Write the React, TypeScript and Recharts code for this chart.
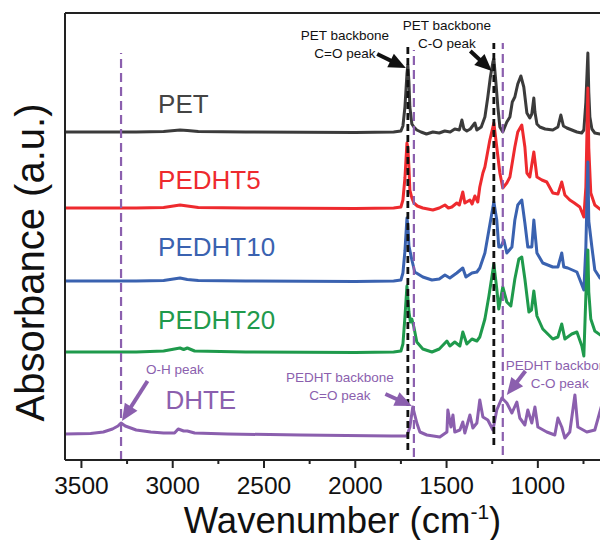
import React from 'react';
import {
  LineChart,
  Line,
  XAxis,
  YAxis,
  ReferenceLine,
  ReferenceDot,
} from 'recharts';

// spectra: [wavenumber cm-1, absorbance above the trace's own baseline]
const petSpectrum: [number, number][] = [
  [3590, 0], [3200, 0], [3050, 0.005], [2960, 0.02], [2920, 0.015], [2860, 0.005], [2600, 0], [2000, -0.005],
  [1790, 0], [1750, 0.01], [1739, 0.06], [1728, 0.25], [1717, 0.58], [1712, 0.67], [1706, 0.5], [1701, 0.25],
  [1690, 0.08], [1679, 0.05], [1663, 0.02], [1640, 0], [1610, -0.02], [1575, 0], [1540, -0.01], [1510, 0.01],
  [1480, 0], [1455, 0.03], [1430, 0.02], [1416, 0.12], [1405, 0.03], [1389, 0.01], [1370, 0.03], [1345, 0.09],
  [1334, 0.02], [1310, 0.05], [1290, 0.15], [1274, 0.35], [1260, 0.55], [1246, 0.7], [1241, 0.73], [1230, 0.5],
  [1219, 0.25], [1208, 0.05], [1192, 0], [1170, 0.1], [1153, 0.15], [1140, 0.3], [1126, 0.35], [1110, 0.48],
  [1093, 0.56], [1077, 0.45], [1060, 0.19], [1044, 0.14], [1033, 0.18], [1022, 0.34], [1016, 0.2], [1005, 0.08],
  [989, 0.05], [960, 0.03], [918, 0.02], [890, 0.05], [874, 0.17], [860, 0.06], [841, 0.04], [800, 0.01],
  [786, 0], [760, -0.01], [748, 0.02], [737, 0.3], [726, 0.79], [721, 0.4], [715, 0.15], [704, 0.03],
  [688, -0.01], [660, -0.02], [617, -0.03], [550, -0.03],
];

const pedht5Spectrum: [number, number][] = [
  [3590, 0], [3200, 0], [3050, 0.005], [2960, 0.03], [2920, 0.02], [2860, 0.005], [2600, 0], [2000, -0.005],
  [1790, 0], [1750, 0.01], [1739, 0.08], [1728, 0.3], [1717, 0.65], [1712, 0.6], [1706, 0.4], [1701, 0.18],
  [1690, 0.1], [1679, 0.05], [1660, 0.02], [1630, 0], [1575, -0.02], [1540, 0], [1509, 0.03], [1490, 0],
  [1471, 0.01], [1444, 0.05], [1430, 0.03], [1411, 0.16], [1400, 0.05], [1372, 0.08], [1360, 0.04], [1345, 0.12],
  [1329, 0.06], [1318, 0.21], [1301, 0.35], [1290, 0.41], [1263, 0.68], [1241, 0.85], [1225, 0.61], [1208, 0.35],
  [1192, 0.2], [1170, 0.25], [1153, 0.31], [1126, 0.61], [1110, 0.76], [1088, 0.83], [1071, 0.61], [1060, 0.35],
  [1044, 0.31], [1022, 0.56], [1005, 0.31], [978, 0.28], [951, 0.26], [918, 0.15], [890, 0.14], [869, 0.26],
  [852, 0.13], [825, 0.08], [800, 0.05], [770, 0.01], [748, -0.09], [737, 0.21], [726, 1.2], [721, 0.6],
  [710, 0.15], [688, 0.03], [660, -0.01], [617, -0.04], [550, -0.05],
];

const pedht10Spectrum: [number, number][] = [
  [3590, 0], [3200, 0], [3050, 0.005], [2960, 0.03], [2920, 0.015], [2860, 0.005], [2600, 0], [2000, -0.005],
  [1790, 0], [1750, 0.01], [1739, 0.08], [1728, 0.3], [1717, 0.63], [1712, 0.55], [1706, 0.35], [1690, 0.21],
  [1674, 0.09], [1630, 0.04], [1580, 0.01], [1540, 0.02], [1509, 0.06], [1482, 0.03], [1444, 0.08], [1411, 0.13],
  [1394, 0.04], [1361, 0.08], [1334, 0.09], [1318, 0.13], [1290, 0.28], [1268, 0.51], [1241, 0.79], [1225, 0.61],
  [1214, 0.34], [1203, 0.34], [1186, 0.41], [1170, 0.28], [1142, 0.34], [1126, 0.61], [1110, 0.76], [1088, 0.81],
  [1071, 0.58], [1055, 0.34], [1033, 0.34], [1022, 0.61], [1005, 0.28], [973, 0.18], [918, 0.14], [890, 0.14],
  [869, 0.28], [858, 0.14], [836, 0.13], [786, 0.09], [748, -0.09], [737, 0.34], [726, 1.19], [721, 0.6],
  [704, 0.34], [688, 0.11], [660, 0.03], [617, -0.02], [550, -0.03],
];

const pedht20Spectrum: [number, number][] = [
  [3590, 0], [3200, 0], [3050, 0.01], [2960, 0.04], [2940, 0.025], [2920, 0.04], [2880, 0.01], [2600, 0],
  [2000, -0.005], [1790, 0], [1750, 0.01], [1739, 0.08], [1728, 0.35], [1717, 0.66], [1706, 0.4], [1698, 0.3],
  [1690, 0.33], [1679, 0.25], [1663, 0.1], [1630, 0.03], [1580, 0], [1540, 0.03], [1498, 0.11], [1482, 0.06],
  [1455, 0.1], [1427, 0.06], [1411, 0.2], [1389, 0.08], [1361, 0.13], [1334, 0.11], [1318, 0.15], [1290, 0.33],
  [1268, 0.56], [1241, 0.88], [1225, 0.63], [1214, 0.43], [1192, 0.65], [1170, 0.5], [1148, 0.46], [1126, 0.73],
  [1104, 0.93], [1088, 0.95], [1071, 0.73], [1049, 0.4], [1035, 0.42], [1022, 0.61], [1005, 0.36], [973, 0.23],
  [918, 0.13], [890, 0.15], [869, 0.28], [852, 0.13], [814, 0.18], [786, 0.2], [759, 0.06], [748, -0.04],
  [737, 0.56], [726, 1.02], [721, 0.6], [710, 0.33], [688, 0.21], [650, 0.16], [617, 0.1], [550, 0.08],
];

const dhteSpectrum: [number, number][] = [
  [3590, 0], [3450, 0.005], [3380, 0.02], [3330, 0.05], [3300, 0.08], [3283, 0.11], [3260, 0.08], [3200, 0.04],
  [3120, 0.02], [3050, 0.01], [2990, 0.01], [2970, 0.05], [2955, 0.04], [2940, 0.03], [2920, 0.03], [2880, 0.01],
  [2700, 0], [2300, -0.01], [1800, -0.02], [1717, -0.02], [1701, 0.07], [1685, 0.27], [1663, 0.11], [1646, 0.02],
  [1608, -0.01], [1537, -0.03], [1498, 0.02], [1493, 0.24], [1476, 0.07], [1465, 0.19], [1455, 0.02], [1427, 0.04],
  [1411, 0.12], [1400, 0.01], [1372, 0.19], [1356, 0.06], [1334, 0.11], [1318, 0.34], [1301, 0.17], [1274, 0.14],
  [1246, 0.04], [1225, 0.24], [1197, 0.36], [1170, 0.31], [1142, 0.21], [1115, 0.32], [1099, 0.16], [1071, 0.09],
  [1055, 0.24], [1033, 0.11], [1016, 0.27], [1000, 0.07], [951, 0.02], [907, -0.01], [890, 0.16], [869, 0.07],
  [852, -0.04], [825, 0.02], [797, 0.39], [781, 0.07], [732, 0.02], [688, 0.04], [650, 0.29], [617, 0.11], [550, 0.05],
];

const sampleNames = ['PET', 'PEDHT5', 'PEDHT10', 'PEDHT20', 'DHTE'];
const sampleColors = ['#3b3b3b', '#ee2a2e', '#3a62b0', '#1f9a4c', '#8b5fae'];
const sampleLabelColors = ['#444444', '#ee2a2e', '#3a62b0', '#1f9a4c', '#8b5fae'];
const stackOffsets = [3.28, 2.52, 1.79, 1.08, 0.26];
const spectra = [petSpectrum, pedht5Spectrum, pedht10Spectrum, pedht20Spectrum, dhteSpectrum];
// where each sample name sits: [wavenumber, absorbance]
const sampleLabelPos: [number, number][] = [[3080, 3.56], [3080, 2.8], [3080, 2.13], [3080, 1.4], [3040, 0.6]];

const xTicks = [3500, 3250, 3000, 2750, 2500, 2250, 2000, 1750, 1500, 1250, 1000, 750];
const peakLines = [
  { x: 1712, y1: 0.1, y2: 4.15, color: '#111111' },
  { x: 1241, y1: 0.15, y2: 4.17, color: '#111111' },
  { x: 3283, y1: 0, y2: 4.07, color: '#8b5fae' },
  { x: 1679, y1: 0.03, y2: 4.1, color: '#8b5fae' },
  { x: 1192, y1: 0.05, y2: 4.17, color: '#8b5fae' },
];
const notes = [
  { x: 2057, y: 4.25, lines: ['PET backbone', 'C=O peak'], color: '#111111' },
  { x: 1498, y: 4.35, lines: ['PET backbone', 'C-O peak'], color: '#111111' },
  { x: 2988, y: 0.91, lines: ['O-H peak'], color: '#8b5fae' },
  { x: 2084, y: 0.83, lines: ['PEDHT backbone', 'C=O peak'], color: '#8b5fae' },
  { x: 880, y: 0.95, lines: ['PEDHT backbone', 'C-O peak'], color: '#8b5fae' },
];
const arrows = [
  { from: [1880, 4.06], to: [1723, 3.92], color: '#111111' },
  { from: [1370, 4.09], to: [1252, 3.89], color: '#111111' },
  { from: [3138, 0.79], to: [3278, 0.39], color: '#8b5fae' },
  { from: [1835, 0.66], to: [1690, 0.54], color: '#8b5fae' },
  { from: [1068, 0.89], to: [1170, 0.65], color: '#8b5fae' },
];

const FONT = '"Liberation Sans", Arial, Helvetica, sans-serif';
const Y_TOP = 4.47;

function XTick(props: any) {
  const { x, y, payload } = props;
  const major = payload.value % 500 === 0;
  return (
    <g>
      <line x1={x} y1={y} x2={x} y2={y + (major ? 8 : 4)} stroke="#222" strokeWidth={2} />
      {major && (
        <text x={x} y={y + 34} textAnchor="middle" fontSize={24.5} fill="#111" fontFamily={FONT}>
          {payload.value}
        </text>
      )}
    </g>
  );
}

function Arrow(props: any) {
  const { x1, y1, x2, y2, color } = props;
  const dx = x2 - x1;
  const dy = y2 - y1;
  const len = Math.sqrt(dx * dx + dy * dy);
  const ux = dx / len;
  const uy = dy / len;
  const head = 17;
  const half = 7.5;
  const bx = x2 - ux * head;
  const by = y2 - uy * head;
  const pts = `${x2},${y2} ${bx - uy * half},${by + ux * half} ${bx + uy * half},${by - ux * half}`;
  return (
    <g>
      <line x1={x1} y1={y1} x2={bx + ux * 3} y2={by + uy * 3} stroke={color} strokeWidth={4} />
      <polygon points={pts} fill={color} />
    </g>
  );
}

export default function App() {
  return (
    <div style={{ width: 600, height: 532, overflow: 'hidden' }}>
      <LineChart width={640} height={532} margin={{ top: 5, right: 28, left: 0, bottom: 0 }}>
        <XAxis
          type="number"
          dataKey="x"
          domain={[550, 3590]}
          reversed
          allowDataOverflow
          ticks={xTicks}
          interval={0}
          tickLine={false}
          tickSize={0}
          tickMargin={0}
          tick={<XTick />}
          axisLine={{ stroke: '#222', strokeWidth: 2 }}
          height={80}
          label={{
            content: (p: any) => {
              const vb = p.viewBox;
              return (
                <text x={vb.x + vb.width / 2} y={vb.y + 73} textAnchor="middle" fontSize={36.5} fill="#111" fontFamily={FONT}>
                  Wavenumber (cm
                  <tspan dy={-14} fontSize={21}>-1</tspan>
                  <tspan dy={14}>)</tspan>
                </text>
              );
            },
          }}
        />
        <YAxis
          type="number"
          domain={[0, Y_TOP]}
          allowDataOverflow
          tick={false}
          tickLine={false}
          axisLine={{ stroke: '#222', strokeWidth: 2 }}
          width={57}
          label={{
            content: (p: any) => {
              const vb = p.viewBox;
              const cx = 22;
              const cy = vb.y + vb.height / 2 + 26;
              return (
                <text
                  x={cx}
                  y={cy}
                  transform={`rotate(-90 ${cx} ${cy})`}
                  textAnchor="middle"
                  dominantBaseline="central"
                  fontSize={40}
                  fill="#111"
                  fontFamily={FONT}
                >
                  Absorbance (a.u.)
                </text>
              );
            },
          }}
        />
        <ReferenceLine y={Y_TOP} stroke="#222" strokeWidth={2} ifOverflow="extendDomain" />
        {spectra.map((s, i) => (
          <Line
            key={sampleNames[i]}
            data={s.map(([x, a]) => ({ x, y: a + stackOffsets[i] }))}
            dataKey="y"
            type="linear"
            stroke={sampleColors[i]}
            strokeWidth={3}
            strokeLinejoin="round"
            dot={false}
            isAnimationActive={false}
          />
        ))}
        {peakLines.map((l, i) => (
          <ReferenceLine
            key={'pl' + i}
            segment={[{ x: l.x, y: l.y1 }, { x: l.x, y: l.y2 }]}
            stroke={l.color}
            strokeWidth={l.color === '#111111' ? 2.8 : 2.2}
            strokeDasharray={l.color === '#111111' ? '7 4' : '9 5'}
          />
        ))}
        {arrows.map((a, i) => (
          <ReferenceLine
            key={'ar' + i}
            segment={[{ x: a.from[0], y: a.from[1] }, { x: a.to[0], y: a.to[1] }]}
            shape={(p: any) => <Arrow {...p} color={a.color} />}
          />
        ))}
        {notes.map((n, i) => (
          <ReferenceDot
            key={'nt' + i}
            x={n.x}
            y={n.y}
            r={0}
            shape={(p: any) => (
              <text textAnchor="middle" fontSize={13.5} fill={n.color} fontFamily={FONT}>
                {n.lines.map((t, j) => (
                  <tspan key={j} x={p.cx} y={p.cy + 5 + j * 18}>{t}</tspan>
                ))}
              </text>
            )}
          />
        ))}
        {sampleNames.map((name, i) => (
          <ReferenceDot
            key={'lb' + name}
            x={sampleLabelPos[i][0]}
            y={sampleLabelPos[i][1]}
            r={0}
            shape={(p: any) => (
              <text x={p.cx} y={p.cy + 9} fontSize={26} fill={sampleLabelColors[i]} fontFamily={FONT}>
                {name}
              </text>
            )}
          />
        ))}
      </LineChart>
    </div>
  );
}
